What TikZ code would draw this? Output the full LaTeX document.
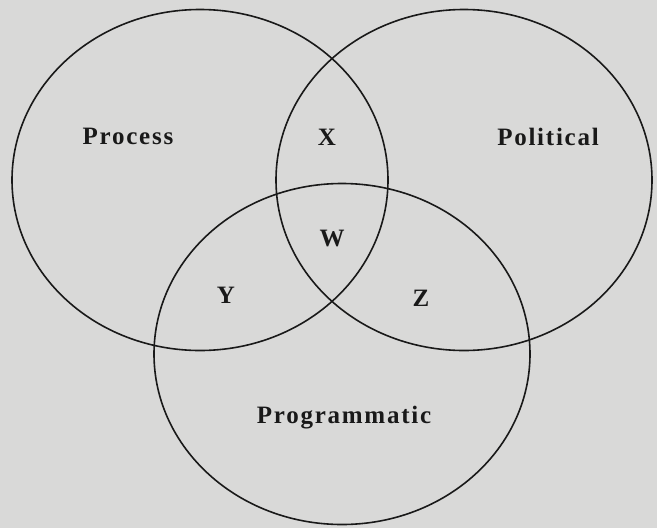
\documentclass[tikz,border=0pt]{standalone}
\usepackage{fontspec}
\newfontfamily\lblfont{Liberation Serif}[LetterSpace=7]
\usetikzlibrary{shapes.geometric}
\definecolor{paper}{RGB}{217,217,216}
\definecolor{ink}{RGB}{25,25,25}
\tikzset{
  setcircle/.style={draw=ink, line width=1.6pt, ellipse, minimum width=376pt, minimum height=341pt, inner sep=0pt},
  lbl/.style={font=\lblfont\bfseries\fontsize{25}{28}\selectfont, text=ink, inner sep=0pt, anchor=center}
}
\begin{document}
\begin{tikzpicture}[x=1pt,y=-1pt]
\fill[paper] (0,0) rectangle (657,528);
\useasboundingbox (0,0) rectangle (657,528);
\node[setcircle] (c1) at (200,180) {};
\node[setcircle] (c2) at (464,180) {};
\node[setcircle] (c3) at (342,354) {};
\node[lbl] (process) at (128,136) {Process};
\node[lbl] (x) at (327,137) {X};
\node[lbl] (political) at (548,137) {Political};
\node[lbl] (w) at (332,238) {W};
\node[lbl] (y) at (226,295) {Y};
\node[lbl] (z) at (421,298) {Z};
\node[lbl] (prog) at (344,418) {Programmatic};
\end{tikzpicture}
\end{document}
